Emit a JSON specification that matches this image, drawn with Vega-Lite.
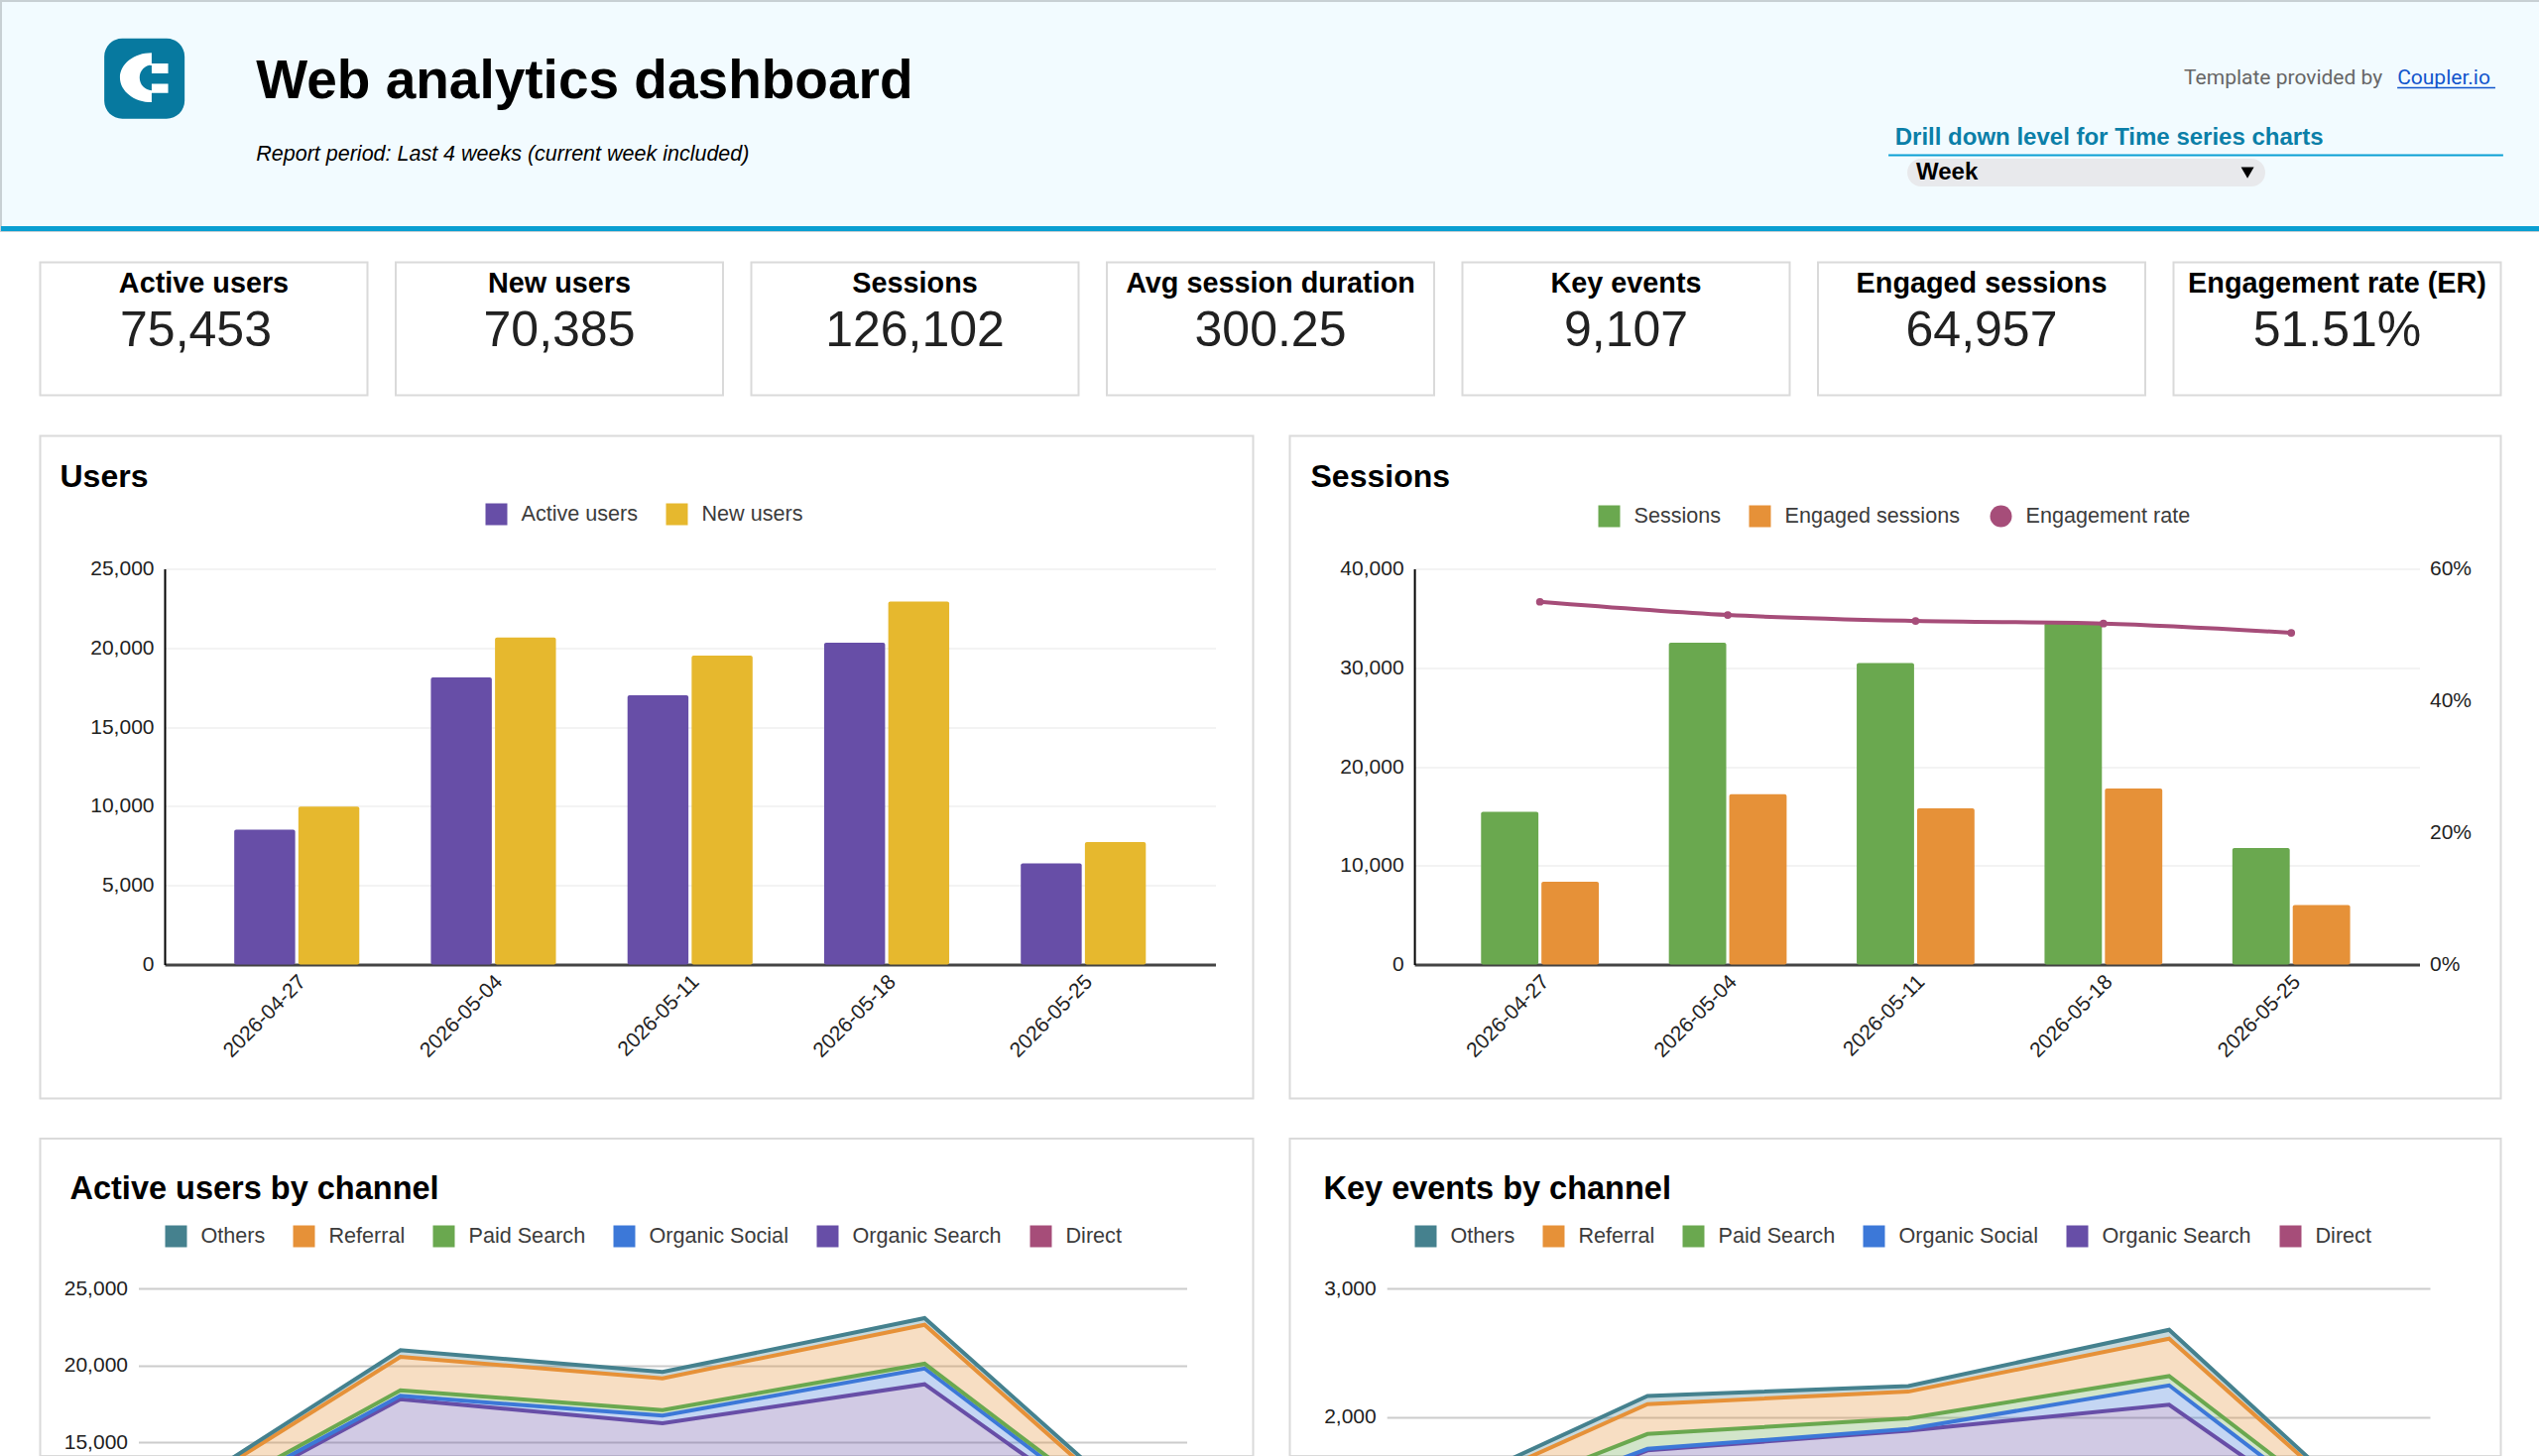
{"$schema":"https://vega.github.io/schema/vega-lite/v6.json","padding":0,"background":"white","spacing":38.5,"center":true,
"resolve":{"scale":{"color":"independent","xOffset":"independent","fill":"independent"}},
"config":{"font":"Liberation Sans","view":{"stroke":"#dadada","strokeWidth":2,"fill":"white"},"axis":{"ticks":false,"title":null,"labelFontSize":21,"labelColor":"#222222","labelFont":"Liberation Sans","gridColor":"#f3f3f3","gridWidth":2},"legend":{"orient":"none","direction":"horizontal","title":null,"padding":0,"labelFontSize":21.6,"labelLimit":500,"labelColor":"#3c3c3c","symbolSize":484,"symbolType":"square","symbolStrokeWidth":0,"labelOffset":14,"columnPadding":28,"symbolOffset":0},"title":{"font":"Liberation Sans","fontWeight":"bold","color":"#000000","anchor":"start","frame":"group","baseline":"alphabetic"}},
"vconcat":[
{"spacing":29.5,"center":true,"resolve":{"scale":{"color":"independent","xOffset":"independent","fill":"independent"}},"vconcat":[
{"width":2560,"height":232,"view":{"fill":"#f2fbff","stroke":"#c8d0d4","strokeWidth":2},
"layer":[
{"data":{"values":[{"part":"band"}]},"mark":{"type":"rect","color":"#0a9fd2"},"encoding":{"x":{"datum":0,"type":"quantitative","scale":{"domain":[0,100]},"axis":null},"x2":{"datum":100},"y":{"datum":97.8,"type":"quantitative","scale":{"domain":[0,100],"range":[0,232]},"axis":null},"y2":{"datum":100}}},
{"data":{"values":[{"part":"logo"}]},"mark":{"type":"point","filled":true,"opacity":1,"size":6561,"color":"#07799f","shape":"M-0.55,-1 H0.55 A0.45,0.45 0 0 1 1,-0.55 V0.55 A0.45,0.45 0 0 1 0.55,1 H-0.55 A0.45,0.45 0 0 1 -1,0.55 V-0.55 A0.45,0.45 0 0 1 -0.55,-1 Z"},"encoding":{"x":{"datum":5.65,"type":"quantitative","axis":null},"y":{"datum":33.7,"type":"quantitative","axis":null}}},
{"data":{"values":[{"part":"logo glyph"}]},"mark":{"type":"point","filled":true,"opacity":1,"size":6561,"color":"#ffffff","shape":"M0.18,-0.64 A0.79,0.615 0 0 0 0.18,0.59 V0.295 A0.3,0.315 0 0 1 0.18,-0.336 Z M0.18,-0.377 H0.59 V-0.131 H0.18 Z M0.18,0.131 H0.59 V0.36 H0.18 Z"},"encoding":{"x":{"datum":5.65,"type":"quantitative","axis":null},"y":{"datum":33.7,"type":"quantitative","axis":null}}},
{"data":{"values":[{"t":"Web analytics dashboard"}]},"mark":{"type":"text","align":"left","baseline":"alphabetic","fontSize":55,"fontWeight":"bold","color":"#000000"},"encoding":{"text":{"field":"t"},"x":{"datum":10.05,"type":"quantitative","axis":null},"y":{"datum":42.2,"type":"quantitative","axis":null}}},
{"data":{"values":[{"t":"Report period: Last 4 weeks (current week included)"}]},"mark":{"type":"text","align":"left","baseline":"alphabetic","fontSize":21.5,"fontStyle":"italic","color":"#000000"},"encoding":{"text":{"field":"t"},"x":{"datum":10.05,"type":"quantitative","axis":null},"y":{"datum":69.4,"type":"quantitative","axis":null}}},
{"data":{"values":[{"t":"Template provided by"}]},"mark":{"type":"text","align":"left","baseline":"alphabetic","font":"Roboto","fontSize":21,"color":"#666666"},"encoding":{"text":{"field":"t"},"x":{"datum":85.98,"type":"quantitative","axis":null},"y":{"datum":36.2,"type":"quantitative","axis":null}}},
{"data":{"values":[{"t":"Coupler.io"}]},"mark":{"type":"text","align":"left","baseline":"alphabetic","font":"Roboto","fontSize":21,"color":"#1155cc"},"encoding":{"text":{"field":"t"},"x":{"datum":94.38,"type":"quantitative","axis":null},"y":{"datum":36.2,"type":"quantitative","axis":null}}},
{"data":{"values":[{"part":"link underline"}]},"mark":{"type":"rule","color":"#1155cc","strokeWidth":1.5},"encoding":{"x":{"datum":94.38,"type":"quantitative","axis":null},"x2":{"datum":98.24},"y":{"datum":37.7,"type":"quantitative","axis":null}}},
{"data":{"values":[{"t":"Drill down level for Time series charts"}]},"mark":{"type":"text","align":"left","baseline":"alphabetic","fontSize":24,"fontWeight":"bold","color":"#0b7fa8"},"encoding":{"text":{"field":"t"},"x":{"datum":74.6,"type":"quantitative","axis":null},"y":{"datum":62.5,"type":"quantitative","axis":null}}},
{"data":{"values":[{"part":"drill rule"}]},"mark":{"type":"rule","color":"#0ba0d4","strokeWidth":2},"encoding":{"x":{"datum":74.34,"type":"quantitative","axis":null},"x2":{"datum":98.55},"y":{"datum":67.07,"type":"quantitative","axis":null}}},
{"data":{"values":[{"part":"pill"}]},"mark":{"type":"rect","color":"#e8e9ec","cornerRadius":14},"encoding":{"x":{"datum":75.08,"type":"quantitative","axis":null},"x2":{"datum":89.18},"y":{"datum":68.5,"type":"quantitative","axis":null},"y2":{"datum":80.6}}},
{"data":{"values":[{"t":"Week"}]},"mark":{"type":"text","align":"left","baseline":"alphabetic","fontSize":24,"fontWeight":"bold","color":"#000000"},"encoding":{"text":{"field":"t"},"x":{"datum":75.43,"type":"quantitative","axis":null},"y":{"datum":77.6,"type":"quantitative","axis":null}}},
{"data":{"values":[{"part":"arrow"}]},"mark":{"type":"point","filled":true,"opacity":1,"shape":"triangle-down","size":170,"color":"#000000"},"encoding":{"x":{"datum":88.48,"type":"quantitative","axis":null},"y":{"datum":74.6,"type":"quantitative","axis":null}}}
]},
{"spacing":26.5,"hconcat":[
{"width":330,"height":134,"data":{"values":[{"label":"Active users","value":75453}]},"encoding":{"x":{"datum":50,"type":"quantitative","scale":{"domain":[0,100]},"axis":null},"y":{"datum":50,"type":"quantitative","scale":{"domain":[0,100]},"axis":null}},"layer":[{"mark":{"type":"text","fontSize":28.8,"fontWeight":"bold","color":"#000000","dy":-46},"encoding":{"text":{"field":"label"}}},{"mark":{"type":"text","fontSize":50,"color":"#212121","dx":-8,"dy":2},"encoding":{"text":{"field":"value","type":"quantitative","format":",.0f"}}}]},
{"width":330,"height":134,"data":{"values":[{"label":"New users","value":70385}]},"encoding":{"x":{"datum":50,"type":"quantitative","scale":{"domain":[0,100]},"axis":null},"y":{"datum":50,"type":"quantitative","scale":{"domain":[0,100]},"axis":null}},"layer":[{"mark":{"type":"text","fontSize":28.8,"fontWeight":"bold","color":"#000000","dy":-46},"encoding":{"text":{"field":"label"}}},{"mark":{"type":"text","fontSize":50,"color":"#212121","dy":2},"encoding":{"text":{"field":"value","type":"quantitative","format":",.0f"}}}]},
{"width":330,"height":134,"data":{"values":[{"label":"Sessions","value":126102}]},"encoding":{"x":{"datum":50,"type":"quantitative","scale":{"domain":[0,100]},"axis":null},"y":{"datum":50,"type":"quantitative","scale":{"domain":[0,100]},"axis":null}},"layer":[{"mark":{"type":"text","fontSize":28.8,"fontWeight":"bold","color":"#000000","dy":-46},"encoding":{"text":{"field":"label"}}},{"mark":{"type":"text","fontSize":50,"color":"#212121","dy":2},"encoding":{"text":{"field":"value","type":"quantitative","format":",.0f"}}}]},
{"width":330,"height":134,"data":{"values":[{"label":"Avg session duration","value":300.25}]},"encoding":{"x":{"datum":50,"type":"quantitative","scale":{"domain":[0,100]},"axis":null},"y":{"datum":50,"type":"quantitative","scale":{"domain":[0,100]},"axis":null}},"layer":[{"mark":{"type":"text","fontSize":28.8,"fontWeight":"bold","color":"#000000","dy":-46},"encoding":{"text":{"field":"label"}}},{"mark":{"type":"text","fontSize":50,"color":"#212121","dy":2},"encoding":{"text":{"field":"value","type":"quantitative","format":".2f"}}}]},
{"width":330,"height":134,"data":{"values":[{"label":"Key events","value":9107}]},"encoding":{"x":{"datum":50,"type":"quantitative","scale":{"domain":[0,100]},"axis":null},"y":{"datum":50,"type":"quantitative","scale":{"domain":[0,100]},"axis":null}},"layer":[{"mark":{"type":"text","fontSize":28.8,"fontWeight":"bold","color":"#000000","dy":-46},"encoding":{"text":{"field":"label"}}},{"mark":{"type":"text","fontSize":50,"color":"#212121","dy":2},"encoding":{"text":{"field":"value","type":"quantitative","format":",.0f"}}}]},
{"width":330,"height":134,"data":{"values":[{"label":"Engaged sessions","value":64957}]},"encoding":{"x":{"datum":50,"type":"quantitative","scale":{"domain":[0,100]},"axis":null},"y":{"datum":50,"type":"quantitative","scale":{"domain":[0,100]},"axis":null}},"layer":[{"mark":{"type":"text","fontSize":28.8,"fontWeight":"bold","color":"#000000","dy":-46},"encoding":{"text":{"field":"label"}}},{"mark":{"type":"text","fontSize":50,"color":"#212121","dy":2},"encoding":{"text":{"field":"value","type":"quantitative","format":",.0f"}}}]},
{"width":330,"height":134,"data":{"values":[{"label":"Engagement rate (ER)","value":0.5151}]},"encoding":{"x":{"datum":50,"type":"quantitative","scale":{"domain":[0,100]},"axis":null},"y":{"datum":50,"type":"quantitative","scale":{"domain":[0,100]},"axis":null}},"layer":[{"mark":{"type":"text","fontSize":28.8,"fontWeight":"bold","color":"#000000","dy":-46},"encoding":{"text":{"field":"label"}}},{"mark":{"type":"text","fontSize":50,"color":"#212121","dy":2},"encoding":{"text":{"field":"value","type":"quantitative","format":".2%"}}}]}
]}
]},
{"spacing":35,"resolve":{"scale":{"color":"independent","xOffset":"independent","fill":"independent"}},"hconcat":[
{"width":1223,"height":668,"title":{"text":"Users","fontSize":32,"offset":-58.5,"dx":20},
"data":{"values":[
{"week":"2026-04-27","series":"Active users","value":8518},{"week":"2026-04-27","series":"New users","value":9983},
{"week":"2026-05-04","series":"Active users","value":18141},{"week":"2026-05-04","series":"New users","value":20658},
{"week":"2026-05-11","series":"Active users","value":17008},{"week":"2026-05-11","series":"New users","value":19524},
{"week":"2026-05-18","series":"Active users","value":20326},{"week":"2026-05-18","series":"New users","value":22926},
{"week":"2026-05-25","series":"Active users","value":6388},{"week":"2026-05-25","series":"New users","value":7743}]},
"mark":{"type":"bar","cornerRadius":2},
"encoding":{
"x":{"field":"week","type":"ordinal","scale":{"range":[125.5,1185],"paddingInner":0.364,"paddingOuter":0.354},"axis":{"labelAngle":-45,"labelAlign":"right","labelBaseline":"middle","labelPadding":14,"labelOffset":6,"domainColor":"#444444","domainWidth":3,"offset":-135,"grid":false}},
"xOffset":{"field":"series","type":"nominal","scale":{"domain":["Active users","New users"],"paddingInner":0.05,"paddingOuter":0}},
"y":{"field":"value","type":"quantitative","stack":null,"scale":{"domain":[0,25000],"range":[533,134]},"axis":{"values":[0,5000,10000,15000,20000,25000],"format":",.0f","offset":-125.5,"labelPadding":11,"domainColor":"#000000","domainWidth":2,"grid":true}},
"color":{"field":"series","type":"nominal","scale":{"domain":["Active users","New users"],"range":["#674ea7","#e6b82e"]},"legend":{"legendX":449,"legendY":68}}}},
{"width":1221,"height":668,"title":{"text":"Sessions","fontSize":32,"offset":-58.5,"dx":21},
"resolve":{"scale":{"y":"independent"}},
"layer":[
{"data":{"values":[
{"week":"2026-04-27","series":"Sessions","value":15442},{"week":"2026-04-27","series":"Engaged sessions","value":8363},
{"week":"2026-05-04","series":"Sessions","value":32522},{"week":"2026-05-04","series":"Engaged sessions","value":17212},
{"week":"2026-05-11","series":"Sessions","value":30487},{"week":"2026-05-11","series":"Engaged sessions","value":15796},
{"week":"2026-05-18","series":"Sessions","value":34500},{"week":"2026-05-18","series":"Engaged sessions","value":17788},
{"week":"2026-05-25","series":"Sessions","value":11770},{"week":"2026-05-25","series":"Engaged sessions","value":6018}]},
"mark":{"type":"bar","cornerRadius":2},
"encoding":{
"x":{"field":"week","type":"ordinal","scale":{"range":[125.6,1139],"paddingInner":0.373,"paddingOuter":0.362,"align":0.49},"axis":{"labelAngle":-45,"labelAlign":"right","labelBaseline":"middle","labelPadding":14,"labelOffset":6,"domainColor":"#444444","domainWidth":3,"offset":-135,"grid":false}},
"xOffset":{"field":"series","type":"nominal","scale":{"domain":["Sessions","Engaged sessions"],"paddingInner":0.05,"paddingOuter":0}},
"y":{"field":"value","type":"quantitative","stack":null,"scale":{"domain":[0,40000],"range":[533,134]},"axis":{"values":[0,10000,20000,30000,40000],"format":",.0f","offset":-125.6,"labelPadding":11,"domainColor":"#000000","domainWidth":2,"grid":true}},
"color":{"field":"series","type":"nominal","scale":{"domain":["Sessions","Engaged sessions"],"range":["#6aa84f","#e69138"]},"legend":{"legendX":311,"legendY":70}}}},
{"data":{"values":[
{"week":"2026-04-27","series":"Engagement rate","rate":0.55},{"week":"2026-05-04","series":"Engagement rate","rate":0.53},{"week":"2026-05-11","series":"Engagement rate","rate":0.521},{"week":"2026-05-18","series":"Engagement rate","rate":0.517},{"week":"2026-05-25","series":"Engagement rate","rate":0.503}]},
"encoding":{
"x":{"field":"week","type":"ordinal"},
"y":{"field":"rate","type":"quantitative","scale":{"domain":[0,0.6],"range":[533,134]},"axis":{"orient":"right","values":[0,0.2,0.4,0.6],"format":".0%","offset":-82,"labelPadding":10,"domain":false,"grid":false}}},
"layer":[
{"mark":{"type":"line","interpolate":"monotone","strokeWidth":4,"color":"#a64d79"}},
{"mark":{"type":"point","filled":true,"opacity":1,"size":60},"encoding":{"fill":{"field":"series","type":"nominal","scale":{"domain":["Engagement rate"],"range":["#a64d79"]},"legend":{"legendX":706,"legendY":70,"symbolType":"circle"}}}}
]}
]}
]},
{"spacing":35,"resolve":{"scale":{"color":"independent","xOffset":"independent","fill":"independent"}},"hconcat":[
{"width":1223,"height":320,"title":{"text":"Active users by channel","fontSize":32.5,"offset":-67.5,"dx":30},
"data":{"values":[
{"week":"2026-04-27","channel":"Direct","rank":1,"value":3000},{"week":"2026-05-04","channel":"Direct","rank":1,"value":6400},{"week":"2026-05-11","channel":"Direct","rank":1,"value":5900},{"week":"2026-05-18","channel":"Direct","rank":1,"value":6800},{"week":"2026-05-25","channel":"Direct","rank":1,"value":2300},
{"week":"2026-04-27","channel":"Organic Search","rank":2,"value":5600},{"week":"2026-05-04","channel":"Organic Search","rank":2,"value":11390},{"week":"2026-05-11","channel":"Organic Search","rank":2,"value":10325},{"week":"2026-05-18","channel":"Organic Search","rank":2,"value":11960},{"week":"2026-05-25","channel":"Organic Search","rank":2,"value":4357},
{"week":"2026-04-27","channel":"Organic Social","rank":3,"value":200},{"week":"2026-05-04","channel":"Organic Social","rank":3,"value":220},{"week":"2026-05-11","channel":"Organic Social","rank":3,"value":495},{"week":"2026-05-18","channel":"Organic Social","rank":3,"value":1030},{"week":"2026-05-25","channel":"Organic Social","rank":3,"value":193},
{"week":"2026-04-27","channel":"Paid Search","rank":4,"value":200},{"week":"2026-05-04","channel":"Paid Search","rank":4,"value":366},{"week":"2026-05-11","channel":"Paid Search","rank":4,"value":365},{"week":"2026-05-18","channel":"Paid Search","rank":4,"value":307},{"week":"2026-05-25","channel":"Paid Search","rank":4,"value":343},
{"week":"2026-04-27","channel":"Referral","rank":5,"value":900},{"week":"2026-05-04","channel":"Referral","rank":5,"value":2172},{"week":"2026-05-11","channel":"Referral","rank":5,"value":2065},{"week":"2026-05-18","channel":"Referral","rank":5,"value":2533},{"week":"2026-05-25","channel":"Referral","rank":5,"value":314},
{"week":"2026-04-27","channel":"Others","rank":6,"value":135},{"week":"2026-05-04","channel":"Others","rank":6,"value":432},{"week":"2026-05-11","channel":"Others","rank":6,"value":410},{"week":"2026-05-18","channel":"Others","rank":6,"value":434},{"week":"2026-05-25","channel":"Others","rank":6,"value":364}]},
"mark":{"type":"area","clip":true,"fillOpacity":0.3,"line":{"strokeWidth":4,"clip":true}},
"encoding":{
"x":{"field":"week","type":"ordinal","scale":{"type":"point","padding":0,"range":[99,1156]},"axis":null},
"y":{"field":"value","type":"quantitative","stack":"zero","scale":{"domain":[0,25000],"range":[538.5,151]},"axis":{"values":[15000,20000,25000],"format":",.0f","offset":-99,"labelPadding":11,"domain":false,"grid":true,"gridColor":"#cccccc"}},
"order":{"field":"rank"},
"color":{"field":"channel","type":"nominal","scale":{"domain":["Others","Referral","Paid Search","Organic Social","Organic Search","Direct"],"range":["#45818e","#e69138","#6aa84f","#3c78d8","#674ea7","#a64d79"]},"legend":{"legendX":126,"legendY":87.5}}}},
{"width":1221,"height":320,"title":{"text":"Key events by channel","fontSize":32.5,"offset":-67.5,"dx":34},
"data":{"values":[
{"week":"2026-04-27","channel":"Direct","rank":1,"value":300},{"week":"2026-05-04","channel":"Direct","rank":1,"value":500},{"week":"2026-05-11","channel":"Direct","rank":1,"value":550},{"week":"2026-05-18","channel":"Direct","rank":1,"value":600},{"week":"2026-05-25","channel":"Direct","rank":1,"value":220},
{"week":"2026-04-27","channel":"Organic Search","rank":2,"value":650},{"week":"2026-05-04","channel":"Organic Search","rank":2,"value":1240},{"week":"2026-05-11","channel":"Organic Search","rank":2,"value":1343},{"week":"2026-05-18","channel":"Organic Search","rank":2,"value":1495},{"week":"2026-05-25","channel":"Organic Search","rank":2,"value":460},
{"week":"2026-04-27","channel":"Organic Social","rank":3,"value":50},{"week":"2026-05-04","channel":"Organic Social","rank":3,"value":12},{"week":"2026-05-11","channel":"Organic Social","rank":3,"value":14},{"week":"2026-05-18","channel":"Organic Social","rank":3,"value":151},{"week":"2026-05-25","channel":"Organic Social","rank":3,"value":17},
{"week":"2026-04-27","channel":"Paid Search","rank":4,"value":72},{"week":"2026-05-04","channel":"Paid Search","rank":4,"value":116},{"week":"2026-05-11","channel":"Paid Search","rank":4,"value":82},{"week":"2026-05-18","channel":"Paid Search","rank":4,"value":72},{"week":"2026-05-25","channel":"Paid Search","rank":4,"value":67},
{"week":"2026-04-27","channel":"Referral","rank":5,"value":118},{"week":"2026-05-04","channel":"Referral","rank":5,"value":232},{"week":"2026-05-11","channel":"Referral","rank":5,"value":208},{"week":"2026-05-18","channel":"Referral","rank":5,"value":291},{"week":"2026-05-25","channel":"Referral","rank":5,"value":35},
{"week":"2026-04-27","channel":"Others","rank":6,"value":38},{"week":"2026-05-04","channel":"Others","rank":6,"value":64},{"week":"2026-05-11","channel":"Others","rank":6,"value":44},{"week":"2026-05-18","channel":"Others","rank":6,"value":69},{"week":"2026-05-25","channel":"Others","rank":6,"value":17}]},
"mark":{"type":"area","clip":true,"fillOpacity":0.3,"line":{"strokeWidth":4,"clip":true}},
"encoding":{
"x":{"field":"week","type":"ordinal","scale":{"type":"point","padding":0,"range":[97.7,1149.5]},"axis":null},
"y":{"field":"value","type":"quantitative","stack":"zero","scale":{"domain":[0,3000],"range":[540,151]},"axis":{"values":[2000,3000],"format":",.0f","offset":-97.7,"labelPadding":11,"domain":false,"grid":true,"gridColor":"#cccccc"}},
"order":{"field":"rank"},
"color":{"field":"channel","type":"nominal","scale":{"domain":["Others","Referral","Paid Search","Organic Social","Organic Search","Direct"],"range":["#45818e","#e69138","#6aa84f","#3c78d8","#674ea7","#a64d79"]},"legend":{"legendX":126,"legendY":87.5}}}}
]}
]}
